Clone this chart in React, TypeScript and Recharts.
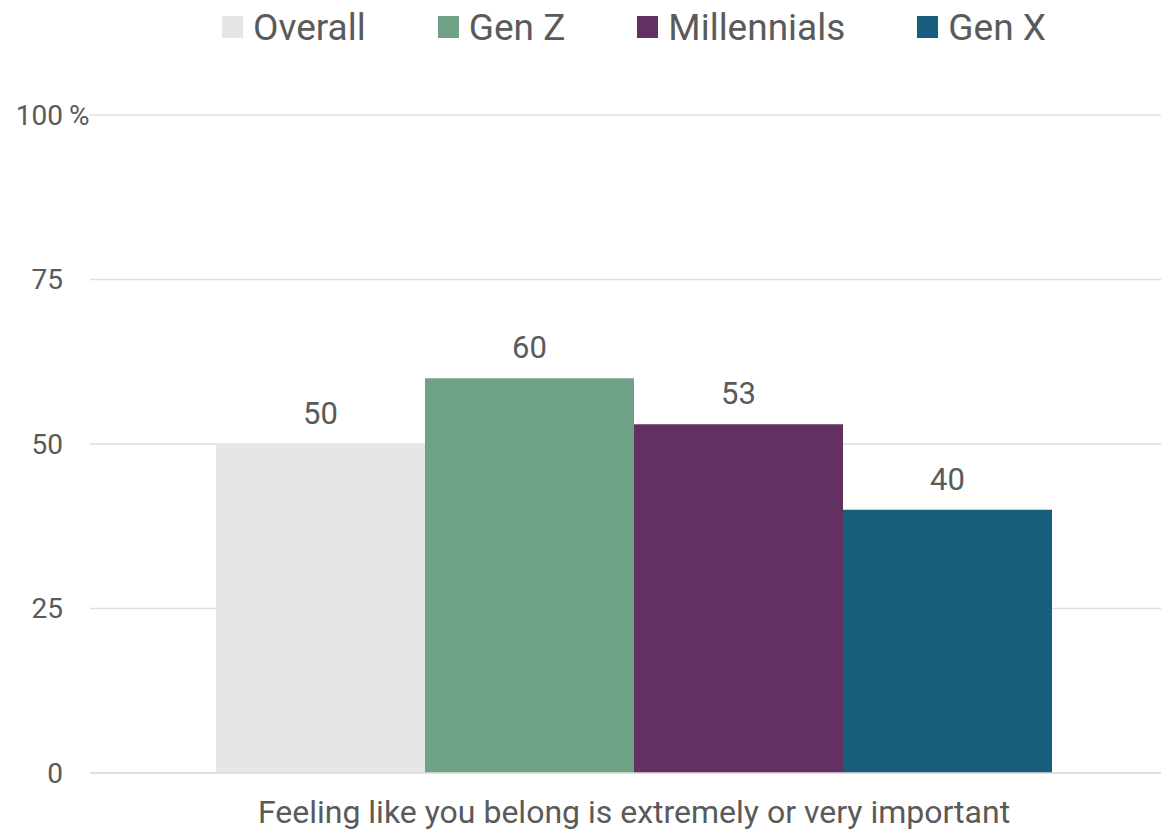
import React from "react";
import {
  BarChart,
  Bar,
  XAxis,
  YAxis,
  CartesianGrid,
  Legend,
  LabelList,
} from "recharts";

const categories = ["Feeling like you belong is extremely or very important"];
const seriesKeys = ["overall", "genZ", "millennials", "genX"];
const seriesNames = ["Overall", "Gen Z", "Millennials", "Gen X"];
const seriesColors = ["#e6e6e6", "#6fa187", "#642f61", "#185d7b"];
const overallValues = [50];
const genZValues = [60];
const millennialsValues = [53];
const genXValues = [40];
const yTicks = [0, 25, 50, 75, 100];

const data = categories.map((c, i) => ({
  category: c,
  overall: overallValues[i],
  genZ: genZValues[i],
  millennials: millennialsValues[i],
  genX: genXValues[i],
}));

const textColor = "#5a5a5a";
const font = "Roboto, sans-serif";

function YTick({ x, y, payload }: any) {
  return (
    <g>
      <text
        x={x}
        y={y}
        dy="0.355em"
        textAnchor="end"
        fill={textColor}
        fontSize={28}
        fontFamily={font}
      >
        {payload.value}
      </text>
      {payload.value === 100 && (
        <text
          x={x + 6}
          y={y}
          dy="0.355em"
          textAnchor="start"
          fill={textColor}
          fontSize={28}
          fontFamily={font}
        >
          %
        </text>
      )}
    </g>
  );
}

function LegendContent() {
  return (
    <div
      style={{
        display: "flex",
        justifyContent: "center",
        alignItems: "center",
        height: 50,
        paddingLeft: 90,
        fontFamily: font,
        fontSize: 37,
        color: textColor,
      }}
    >
      {seriesNames.map((n, i) => (
        <div
          key={n}
          style={{
            display: "flex",
            alignItems: "center",
            marginLeft: i === 0 ? 0 : 72,
          }}
        >
          <span
            style={{
              width: 21,
              height: 22,
              background: seriesColors[i],
              marginRight: 10,
              display: "inline-block",
            }}
          />
          <span>{n}</span>
        </div>
      ))}
    </div>
  );
}

export default function App() {
  return (
    <div
      style={{
        position: "fixed",
        top: 0,
        left: 0,
        width: 1161,
        height: 831,
        overflow: "hidden",
        background: "#fff",
      }}
    >
      <BarChart
        width={1180}
        height={831}
        data={data}
        margin={{ top: 65, right: 2, bottom: 0, left: 0 }}
        barGap={0}
        barCategoryGap={126}
      >
        <CartesianGrid vertical={false} stroke="#dedede" strokeWidth={1.5} />
        <XAxis
          dataKey="category"
          axisLine={{ stroke: "#dedede", strokeWidth: 1.5 }}
          tickLine={false}
          tickSize={0}
          tickMargin={27}
          height={58}
          tick={{ fill: textColor, fontSize: 32, fontFamily: font }}
        />
        <YAxis
          domain={[0, 100]}
          ticks={yTicks}
          axisLine={false}
          tickLine={false}
          tickSize={0}
          tickMargin={27}
          width={90}
          tick={<YTick />}
        />
        <Legend
          verticalAlign="top"
          align="center"
          content={<LegendContent />}
          wrapperStyle={{ top: 2 }}
        />
        {seriesKeys.map((k, i) => (
          <Bar
            key={k}
            dataKey={k}
            name={seriesNames[i]}
            fill={seriesColors[i]}
            isAnimationActive={false}
          >
            <LabelList
              dataKey={k}
              position="top"
              offset={20}
              fill={textColor}
              fontSize={31}
              fontFamily={font}
            />
          </Bar>
        ))}
      </BarChart>
    </div>
  );
}
